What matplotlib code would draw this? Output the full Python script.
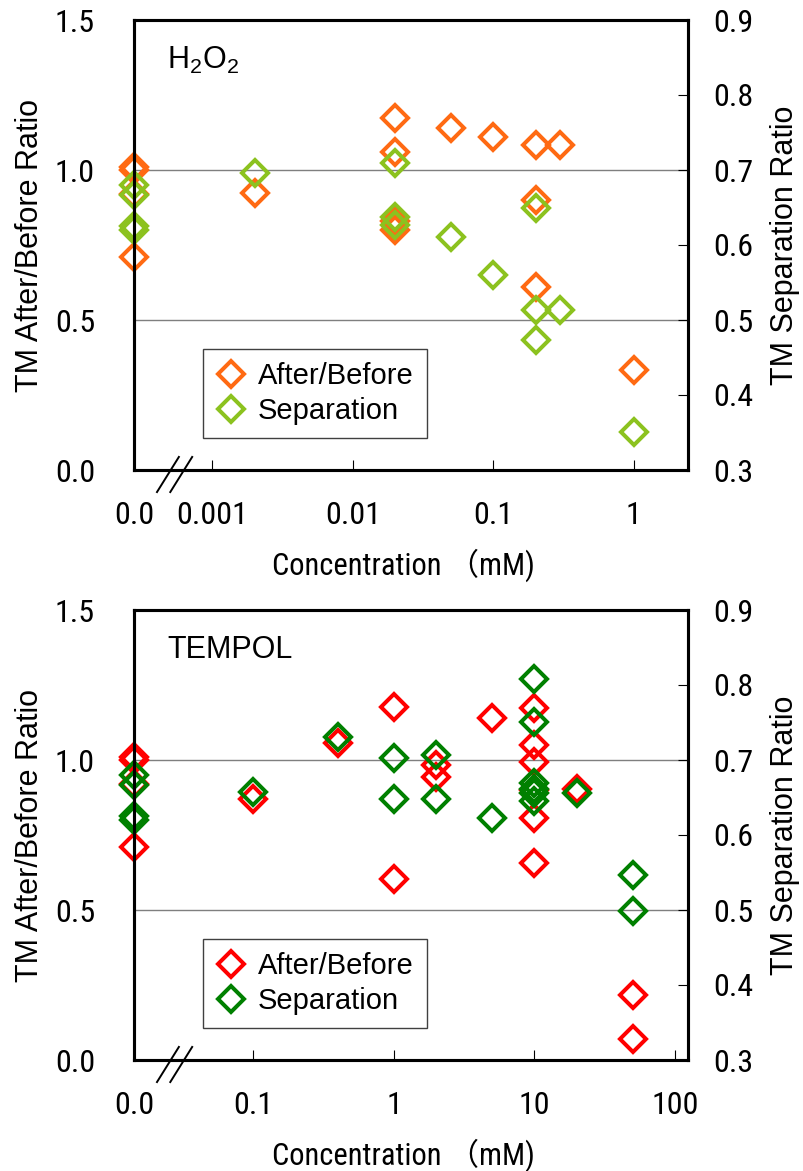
import matplotlib
matplotlib.use("Agg")
import matplotlib.pyplot as plt
from matplotlib import font_manager as fm

# H2O2 panel: concentration (mM), 0 = control
H2O2_RATIO_CONC = [0, 0, 0, 0, 0.002, 0.02, 0.02, 0.02, 0.02, 0.05, 0.1, 0.2, 0.2, 0.2, 0.3, 1]
H2O2_RATIO = [1.0, 1.01, 0.92, 0.71, 0.924, 1.173, 1.06, 0.83, 0.80, 1.14, 1.11, 1.083, 0.90, 0.61, 1.083, 0.333]
H2O2_SEP_CONC = [0, 0, 0, 0, 0.002, 0.02, 0.02, 0.02, 0.05, 0.1, 0.2, 0.2, 0.2, 0.3, 1]
H2O2_SEP = [0.68, 0.667, 0.625, 0.62, 0.696, 0.709, 0.637, 0.627, 0.611, 0.56, 0.649, 0.513, 0.473, 0.513, 0.351]

# TEMPOL panel
TEMPOL_RATIO_CONC = [0, 0, 0, 0, 0.1, 0.4, 1, 1, 2, 2, 5, 10, 10, 10, 10, 10, 10, 20, 50, 50]
TEMPOL_RATIO = [1.0, 1.01, 0.92, 0.71, 0.87, 1.057, 1.177, 0.603, 0.983, 0.943, 1.14,
                1.173, 1.05, 0.995, 0.90, 0.807, 0.657, 0.903, 0.217, 0.07]
TEMPOL_SEP_CONC = [0, 0, 0, 0, 0.1, 0.4, 1, 1, 2, 2, 5, 10, 10, 10, 10, 10, 10, 20, 50, 50]
TEMPOL_SEP = [0.68, 0.667, 0.625, 0.62, 0.657, 0.731, 0.703, 0.648, 0.707, 0.648, 0.623,
              0.808, 0.751, 0.669, 0.662, 0.656, 0.645, 0.656, 0.547, 0.499]

H2O2_TICKS = [0.001, 0.01, 0.1, 1]
H2O2_TICKLABELS = ["0.001", "0.01", "0.1", "1"]
TEMPOL_TICKS = [0.1, 1, 10, 100]
TEMPOL_TICKLABELS = ["0.1", "1", "10", "100"]
LEFT_TICKS = [0.0, 0.5, 1.0, 1.5]
RIGHT_TICKS = [0.3, 0.4, 0.5, 0.6, 0.7, 0.8, 0.9]


def pick(*names):
    for n in names:
        try:
            fm.findfont(fm.FontProperties(family=n), fallback_to_default=False)
            return n
        except Exception:
            pass
    return "DejaVu Sans"


SANS = pick("Liberation Sans", "Arial")
NARROW = pick("Liberation Sans Narrow", "Roboto Condensed", SANS)
CJK = pick("Noto Sans CJK JP", "DejaVu Sans")
plt.rcParams["font.family"] = [SANS, "DejaVu Sans"]
plt.rcParams["mathtext.fontset"] = "custom"
plt.rcParams["mathtext.rm"] = SANS


def panel(fig, rect, rx, ry, sx, sy, xlim, ticks, ticklabels, name, c_ratio, c_sep):
    ax = fig.add_axes(rect)
    ax.set_xscale("log")
    ax.set_xlim(*xlim)
    ax.set_ylim(0, 1.5)
    ax2 = ax.twinx()
    ax2.set_ylim(0.3, 0.9)
    x0 = xlim[0]
    xr = [x0 if v == 0 else v for v in rx]
    xs = [x0 if v == 0 else v for v in sx]
    for y in (0.5, 1.0):
        ax.axhline(y, color="#7f7f7f", lw=1.0, zorder=1)
    mk = dict(marker="D", ms=13, mfc="none", mew=2.9, ls="none", clip_on=False)
    l1, = ax.plot(xr, ry, mec=c_ratio, label="After/Before", **mk)
    l2, = ax2.plot(xs, sy, mec=c_sep, label="Separation", **mk)

    ax.set_xticks([x0] + ticks)
    ax.set_xticklabels(["0.0"] + ticklabels)
    ax.xaxis.set_minor_locator(matplotlib.ticker.NullLocator())
    ax.tick_params(axis="x", direction="in", length=7, width=0.8, pad=22, labelsize=23)
    ax.xaxis.get_major_ticks()[0].tick1line.set_visible(False)
    for t in ax.get_xticklabels():
        t.set_family([NARROW, SANS])
    ax.set_yticks(LEFT_TICKS)
    ax.set_yticklabels(["0.0", "0.5", "1.0", "1.5"])
    ax.tick_params(axis="y", length=0, pad=28, labelsize=23)
    for t in ax.get_yticklabels():
        t.set_family([NARROW, SANS])
    ax2.set_yticks(RIGHT_TICKS)
    ax2.set_yticklabels([f"{v:.1f}" for v in RIGHT_TICKS])
    ax2.tick_params(axis="y", direction="in", length=7, width=0.8, pad=18, labelsize=23)
    for t in ax2.get_yticklabels():
        t.set_family([NARROW, SANS])

    for a in (ax, ax2):
        for s in a.spines.values():
            s.set_linewidth(2.2)

    ax.set_ylabel("TM After/Before Ratio", fontsize=22, va="center", ha="center")
    ax.yaxis.set_label_coords(-0.188, 0.5)
    ax2.set_ylabel("TM Separation Ratio", fontsize=22, rotation=90, va="center", ha="center")
    ax2.yaxis.set_label_coords(1.175, 0.5)
    ax.set_xlabel("Concentration \uff08mM)", fontsize=22, family=[NARROW, CJK])
    ax.xaxis.set_label_coords(0.486, -0.212)
    ax.xaxis.label.set_va("center")

    ax2.text(0.06, 0.911, name, transform=ax.transAxes, fontsize=22, va="center", ha="left")

    leg = ax2.legend([l1, l2], ["After/Before", "Separation"], loc="upper left",
                     bbox_to_anchor=(0.125, 0.269), fontsize=21, numpoints=1,
                     handlelength=1.0, handletextpad=0.43, borderpad=0.45,
                     labelspacing=0.25, fancybox=False, framealpha=1, borderaxespad=0)
    leg.get_frame().set_edgecolor("#404040")
    leg.get_frame().set_linewidth(1.0)

    # axis break marks
    for dx in (0.0, 0.024):
        ax2.plot([0.0415 + dx, 0.081 + dx], [-0.049, 0.029], transform=ax2.transAxes,
                 color="black", lw=1.4, clip_on=False, zorder=10)
    return ax, ax2


fig = plt.figure(figsize=(8.04, 11.71), dpi=100)
W = 554 / 804
H = 450 / 1171
L = 134 / 804
panel(fig, [L, 1 - 470 / 1171, W, H], H2O2_RATIO_CONC, H2O2_RATIO, H2O2_SEP_CONC, H2O2_SEP,
      (10 ** -3.557, 10 ** 0.386), H2O2_TICKS, H2O2_TICKLABELS, r"H$_2$O$_2$", "#FF6A13", "#8CC21F")
panel(fig, [L, 1 - 1060 / 1171, W, H], TEMPOL_RATIO_CONC, TEMPOL_RATIO, TEMPOL_SEP_CONC, TEMPOL_SEP,
      (10 ** -1.85, 10 ** 2.093), TEMPOL_TICKS, TEMPOL_TICKLABELS, "TEMPOL", "#FF0000", "#008000")
fig.savefig("out.png", dpi=100)
